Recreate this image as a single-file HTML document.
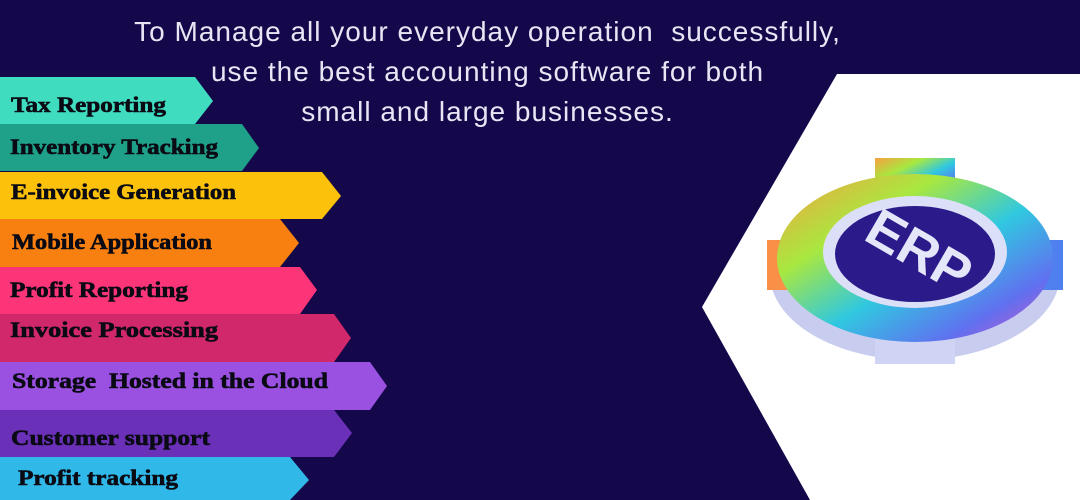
<!DOCTYPE html>
<html><head><meta charset="utf-8"><style>
html,body{margin:0;padding:0;}
body{width:1080px;height:500px;overflow:hidden;background:#14084a;position:relative;font-family:"Liberation Sans",sans-serif;}
.t{position:absolute;left:0;width:975px;text-align:center;color:#e8e6f4;font-size:28px;letter-spacing:1px;line-height:40px;}
svg{position:absolute;left:0;top:0;}
.lb{font-family:"Liberation Serif",serif;font-weight:bold;font-size:22px;fill:#0a0a14;stroke:#0a0a14;stroke-width:0.6px;}
</style></head><body>
<svg width="1080" height="500">
<defs>
<linearGradient id="rb" x1="0" y1="0" x2="1" y2="1">
<stop offset="0" stop-color="#f8a040"/><stop offset="0.3" stop-color="#a8e840"/><stop offset="0.55" stop-color="#30c8e0"/><stop offset="0.8" stop-color="#6070f0"/><stop offset="1" stop-color="#e050c0"/>
</linearGradient>
</defs>
<polygon points="837,74 1080,74 1080,500 810,500 702,307" fill="#ffffff"/>
<g transform="translate(915,258)">
<ellipse cx="0" cy="16" rx="145" ry="86" fill="#c8cdf0"/>
<rect x="-40" y="-100" width="80" height="40" fill="url(#rb)"/>
<rect x="-40" y="66" width="80" height="40" fill="#d0d4f4"/>
<rect x="-148" y="-18" width="40" height="50" fill="#f89048"/>
<rect x="108" y="-18" width="40" height="50" fill="#5080f0"/>
<ellipse cx="0" cy="0" rx="138" ry="84" fill="url(#rb)"/>
<ellipse cx="0" cy="-6" rx="92" ry="56" fill="#dcdff8"/>
<ellipse cx="0" cy="-4" rx="80" ry="48" fill="#2a1a8a"/>
<text x="0" y="10" text-anchor="middle" font-family="Liberation Sans" font-weight="bold" font-size="54" fill="#e4e6fa" transform="rotate(30)">ERP</text>
</g>
<g>
<polygon points="0,77 195,77 213,101 195,124 0,124" fill="#40dcc0"/>
<polygon points="0,124 242,124 259,148 242,171 0,171" fill="#1fa088"/>
<polygon points="0,172 322,172 341,196 322,219 0,219" fill="#fcc10a"/>
<polygon points="0,219 280,219 299,243 280,267 0,267" fill="#f88010"/>
<polygon points="0,267 300,267 317,290 300,314 0,314" fill="#fc3478"/>
<polygon points="0,314 334,314 351,338 334,362 0,362" fill="#d0286a"/>
<polygon points="0,362 370,362 387,386 370,410 0,410" fill="#9a50e0"/>
<polygon points="0,410 334,410 352,433 334,457 0,457" fill="#6a30b8"/>
<polygon points="0,457 290,457 309,480 290,500 0,500" fill="#30b8e8"/>
</g>
<text class="lb" x="11" y="112" textLength="155" lengthAdjust="spacingAndGlyphs">Tax Reporting</text>
<text class="lb" x="10" y="154" textLength="208" lengthAdjust="spacingAndGlyphs">Inventory Tracking</text>
<text class="lb" x="11" y="199" textLength="225" lengthAdjust="spacingAndGlyphs">E-invoice Generation</text>
<text class="lb" x="12" y="249" textLength="200" lengthAdjust="spacingAndGlyphs">Mobile Application</text>
<text class="lb" x="10" y="297" textLength="178" lengthAdjust="spacingAndGlyphs">Profit Reporting</text>
<text class="lb" x="10" y="337" textLength="208" lengthAdjust="spacingAndGlyphs">Invoice Processing</text>
<text class="lb" x="12" y="388" textLength="316" lengthAdjust="spacingAndGlyphs">Storage&#160; Hosted in the Cloud</text>
<text class="lb" x="11" y="445" textLength="199" lengthAdjust="spacingAndGlyphs">Customer support</text>
<text class="lb" x="18" y="485" textLength="160" lengthAdjust="spacingAndGlyphs">Profit tracking</text>
</svg>
<div class="t" style="top:12px">To Manage all your everyday operation&#160; successfully,</div>
<div class="t" style="top:52px">use the best accounting software for both</div>
<div class="t" style="top:92px">small and large businesses.</div>
</body></html>
